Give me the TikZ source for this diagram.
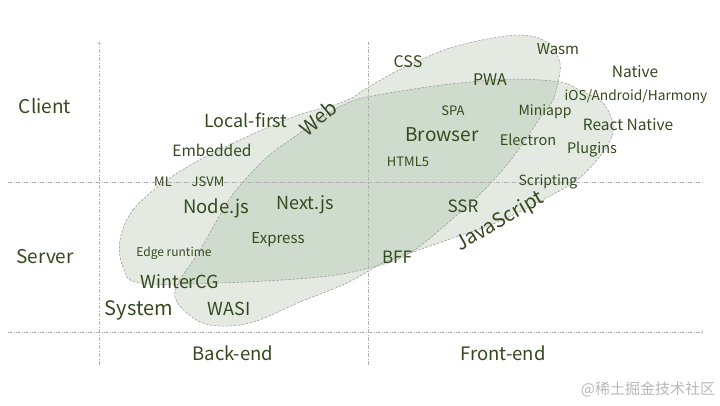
\documentclass[tikz,border=0pt]{standalone}
\usepackage{fontspec}
\setmainfont{Noto Sans CJK SC}
\definecolor{txtgreen}{RGB}{52,74,30}
\definecolor{blobLight}{RGB}{228,234,226}
\definecolor{blobDark}{RGB}{206,219,205}
\definecolor{rimgray}{RGB}{150,150,150}
\definecolor{axisgray}{RGB}{178,178,178}
\newcommand\fsz[1]{\fontsize{#1}{#1}\selectfont}

\begin{document}
\begin{tikzpicture}[x=1pt,y=-1pt,
  lbl/.style={text=txtgreen,inner sep=0pt},
  rimline/.style={draw=rimgray,dash pattern=on 2.5pt off 1.5pt,line width=0.5pt},
  axisline/.style={draw=axisgray,dash pattern=on 4pt off 1.5pt on 1pt off 1.5pt,line width=0.5pt}]
  \useasboundingbox[fill=white] (0,0) rectangle (720,405);
  % the two areas
  \path[save path=\webarea] plot[smooth cycle,tension=0.6] coordinates {
    (120,240) (133,210) (167,180) (213,153) (290,118) (343,102) (367,88) (393,73) (420,60) (460,45)
    (517,35) (547,42) (558,57) (560,72) (553,100) (540,118) (513,157) (487,187) (457,215)
    (410,253) (373,267) (320,277) (220,283) (140,283) (123,267)};
  \path[save path=\jsarea] plot[smooth cycle,tension=0.6] coordinates {
    (175,297) (180,280) (200,250) (227,203) (243,182) (267,157) (290,140) (323,117) (343,105)
    (367,97) (427,87) (470,82) (510,79) (560,82) (583,92) (603,103) (613,124) (610,141) (597,160)
    (577,180) (550,196) (500,221) (450,239) (413,252) (383,263) (347,283) (300,302) (250,323)
    (210,325) (187,313)};
  \fill[blobLight,use path=\webarea];
  \fill[blobLight,use path=\jsarea];
  \begin{scope}
    \clip[use path=\webarea];
    \fill[blobDark,use path=\jsarea];
  \end{scope}
  \draw[rimline,use path=\webarea];
  \draw[rimline,use path=\jsarea];
  % axes
  \coordinate (ytop) at (99,42);  \coordinate (ybot) at (99,365);
  \coordinate (mtop) at (368,42); \coordinate (mbot) at (368,365);
  \coordinate (hl) at (8,182);    \coordinate (hr) at (703,182);
  \coordinate (xl) at (8,332);    \coordinate (xr) at (703,332);
  \draw[axisline,->] (ybot) -- (ytop);
  \draw[axisline] (mbot) -- (mtop);
  \draw[axisline] (hl) -- (hr);
  \draw[axisline,->] (xl) -- (xr);
  % quadrant labels
  \node[lbl,font=\fsz{19}] (client) at (45,106) {Client};
  \node[lbl,font=\fsz{19}] (server) at (45,257) {Server};
  \node[lbl,font=\fsz{18.5}] (backend) at (233,353) {Back-end};
  \node[lbl,font=\fsz{18.5}] (frontend) at (503,353) {Front-end};
  % area labels
  \node[lbl,font=\fsz{20},rotate=40] (web) at (318,118) {Web};
  \node[lbl,font=\fsz{20},rotate=30] (js) at (500,222) {JavaScript};
  % left side
  \node[lbl,font=\fsz{18}] (localfirst) at (246,120) {Local-first};
  \node[lbl,font=\fsz{15.5}] (embedded) at (212,150) {Embedded};
  \node[lbl,font=\fsz{13}] (ml) at (163,182) {ML};
  \node[lbl,font=\fsz{13}] (jsvm) at (208,182) {JSVM};
  \node[lbl,font=\fsz{18.5}] (nodejs) at (216,208) {Node.js};
  \node[lbl,font=\fsz{18}] (nextjs) at (305,205) {Next.js};
  \node[lbl,font=\fsz{15}] (express) at (278,240) {Express};
  \node[lbl,font=\fsz{12}] (edge) at (174,253) {Edge runtime};
  \node[lbl,font=\fsz{18}] (wintercg) at (180,282) {WinterCG};
  \node[lbl,font=\fsz{20}] (system) at (139,310) {System};
  \node[lbl,font=\fsz{18}] (wasi) at (229,309) {WASI};
  % right side
  \node[lbl,font=\fsz{16}] (css) at (408,62) {CSS};
  \node[lbl,font=\fsz{15}] (wasm) at (558,49) {Wasm};
  \node[lbl,font=\fsz{16}] (pwa) at (490,80) {PWA};
  \node[lbl,font=\fsz{15.5}] (native) at (635,72) {Native};
  \node[lbl,font=\fsz{13.7}] (ios) at (636,97) {iOS/Android/Harmony};
  \node[lbl,font=\fsz{13}] (spa) at (453,111) {SPA};
  \node[lbl,font=\fsz{14}] (miniapp) at (545,112) {Miniapp};
  \node[lbl,font=\fsz{15.5}] (rn) at (628,125) {React Native};
  \node[lbl,font=\fsz{19}] (browser) at (442,135) {Browser};
  \node[lbl,font=\fsz{14.5}] (electron) at (528,140) {Electron};
  \node[lbl,font=\fsz{14.5}] (plugins) at (592,150) {Plugins};
  \node[lbl,font=\fsz{13}] (html) at (408,162) {HTML5};
  \node[lbl,font=\fsz{14}] (scripting) at (548,182) {Scripting};
  \node[lbl,font=\fsz{17}] (ssr) at (463,206) {SSR};
  \node[lbl,font=\fsz{17}] (bff) at (397,257) {BFF};
  % watermark
  \node[inner sep=0pt,text=gray!55,font=\fsz{15}] (mark) at (648,389) {@稀土掘金技术社区};
\end{tikzpicture}
\end{document}
